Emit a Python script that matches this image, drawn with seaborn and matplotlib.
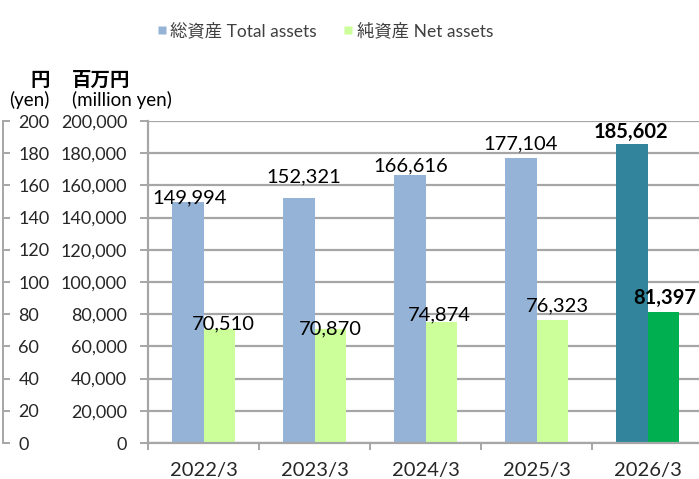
import numpy as np
import pandas as pd
import matplotlib
matplotlib.use("Agg")
import matplotlib.pyplot as plt
from matplotlib.lines import Line2D
from matplotlib.ticker import FuncFormatter, MultipleLocator, FixedLocator
import seaborn as sns

# data
years = ["2022/3", "2023/3", "2024/3", "2025/3", "2026/3"]
total_assets = [149994, 152321, 166616, 177104, 185602]
net_assets = [70510, 70870, 74874, 76323, 81397]
series_names = ["総資産 Total assets", "純資産 Net assets"]

df = pd.DataFrame({
    "year": years * 2,
    "value": total_assets + net_assets,
    "series": [series_names[0]] * 5 + [series_names[1]] * 5,
})

sns.set_theme(style="white")
plt.rcParams["font.family"] = ["Lato", "Noto Sans CJK JP", "DejaVu Sans"]

c_total, c_net = "#95B3D7", "#CCFF99"
c_total_hi, c_net_hi = "#31849B", "#00B050"
grid_c = "#A6A6A6"
txt_c = "#262626"

fig = plt.figure(figsize=(6.99, 4.79), dpi=100)
ax = fig.add_axes([148 / 699, 36 / 479, 555 / 699, 322 / 479])

sns.barplot(data=df, x="year", y="value", hue="series", order=years,
            hue_order=series_names, palette=[c_total, c_net],
            width=0.56, gap=0, saturation=1, legend=False, ax=ax)
ax.containers[0][4].set_facecolor(c_total_hi)
ax.containers[1][4].set_facecolor(c_net_hi)
for b in ax.patches:
    b.set_edgecolor("none")

ax.set_xlim(-0.5, 4.5)
ax.set_ylim(0, 200000)
ax.yaxis.set_major_locator(MultipleLocator(20000))
ax.yaxis.set_major_formatter(FuncFormatter(lambda v, p: f"{int(v):,}"))
ax.grid(axis="y", color=grid_c, linewidth=1.6)
ax.set_axisbelow(True)
ax.set_xlabel("")
ax.set_ylabel("")
for s in ["top", "right"]:
    ax.spines[s].set_visible(False)
for s in ["left", "bottom"]:
    ax.spines[s].set_color(grid_c)
    ax.spines[s].set_linewidth(1.6)
ax.tick_params(axis="y", length=6, width=1.4, color=grid_c, pad=9,
               labelsize=13, labelcolor=txt_c, left=True)
ax.tick_params(axis="x", length=0, pad=14, labelsize=14.5, labelcolor=txt_c)
ax.xaxis.set_minor_locator(FixedLocator(np.arange(-0.5, 5, 1)))
ax.tick_params(axis="x", which="minor", length=5, width=1.4, color=grid_c, bottom=True)

# secondary yen axis at far left
ax2 = ax.twinx()
ax2.set_ylim(0, 200)
ax2.yaxis.set_major_locator(MultipleLocator(20))
ax2.spines["right"].set_position(("axes", -0.261))
ax2.spines["right"].set_color(grid_c)
ax2.spines["right"].set_linewidth(1.4)
for s in ["top", "left", "bottom"]:
    ax2.spines[s].set_visible(False)
ax2.tick_params(axis="y", length=5, width=1.4, color=grid_c, pad=6,
                labelsize=13, labelcolor=txt_c)

# data labels (offsets in pixels, as laid out in the reference)
off_total = [(2, -1.5), (4.5, 15), (0.5, 3), (0, 8), (-1, 6)]
off_net = [(4, 0.5), (0.5, -5), (-2, 2), (5, 9), (1.5, 8)]
for cont, offs in [(ax.containers[0], off_total), (ax.containers[1], off_net)]:
    for i, (bar, (dx, dy)) in enumerate(zip(cont, offs)):
        h = bar.get_height()
        ax.annotate(f"{int(h):,}", (bar.get_x() + bar.get_width() / 2, h),
                    xytext=(dx * 0.72, dy * 0.72), textcoords="offset points",
                    ha="center", va="baseline", fontsize=14.5, color="black",
                    fontweight="bold" if i == 4 else "normal")

# unit labels
fig.text(40 / 699, 1 - 80 / 479, "円", ha="center", va="center",
         fontsize=14, fontweight="bold", color="black")
fig.text(29 / 699, 1 - 100 / 479, "(yen)", ha="center", va="center",
         fontsize=13.5, color="black")
fig.text(72 / 699, 1 - 80 / 479, "百万円", ha="left", va="center",
         fontsize=14, fontweight="bold", color="black")
fig.text(72 / 699, 1 - 100 / 479, "(million yen)", ha="left", va="center",
         fontsize=13.5, color="black")

handles = [Line2D([], [], marker="s", linestyle="none", markersize=6,
                  markerfacecolor=c, markeredgecolor="none") for c in [c_total, c_net]]
fig.legend(handles, series_names, loc="center", bbox_to_anchor=(324 / 699, 1 - 31 / 479),
           ncol=2, frameon=False, fontsize=12.5, handletextpad=0.1,
           columnspacing=1.4, handlelength=0.8, labelcolor="#404040")

fig.savefig("out.png", dpi=100)
